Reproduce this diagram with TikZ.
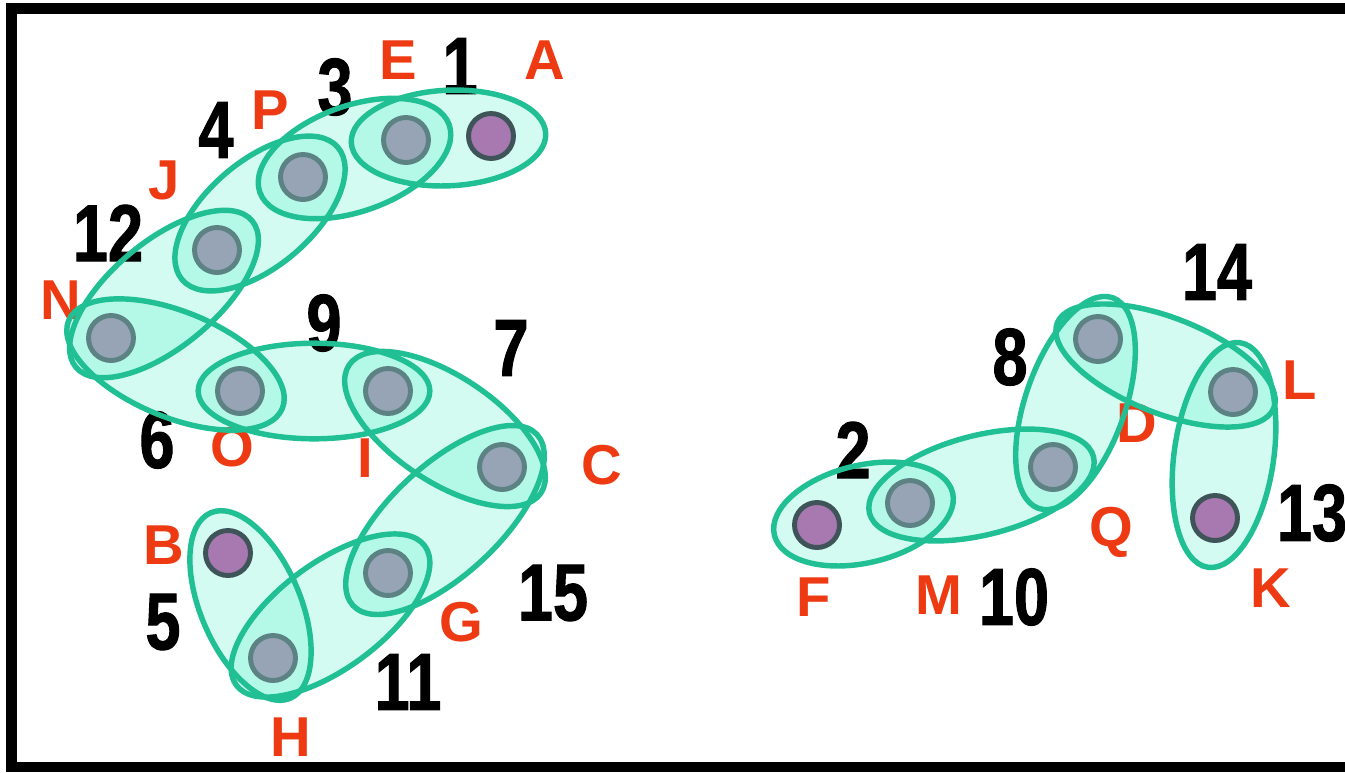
\documentclass[tikz,border=0pt]{standalone}
\usepackage{fontspec}
\usetikzlibrary{calc}
\newfontfamily\letfont{Liberation Sans}
\newfontfamily\numfont[FakeStretch=0.78,FakeBold=1.2]{Liberation Sans}
\definecolor{edgeline}{RGB}{32,192,148}
\definecolor{edgefill}{RGB}{110,245,210}
\definecolor{greynode}{RGB}{150,164,182}
\definecolor{greyrim}{RGB}{92,130,132}
\definecolor{purplenode}{RGB}{168,120,176}
\definecolor{purplerim}{RGB}{62,84,88}
\definecolor{letred}{RGB}{238,58,18}
\pgfdeclarelayer{back}
\pgfdeclarelayer{bg}
\pgfdeclarelayer{fg}
\pgfsetlayers{back,bg,main,fg}
\tikzset{
  vtx/.style={circle, inner sep=0pt, minimum size=0.9cm, line width=2.8pt, draw=greyrim, fill=greynode},
  pvtx/.style={vtx, draw=purplerim, fill=purplenode},
  letlab/.style={inner sep=0pt, text=letred, font=\letfont\bfseries\fontsize{32}{32}\selectfont},
  numlab/.style={inner sep=0pt, text=black, font=\numfont\bfseries\fontsize{46}{46}\selectfont},
  hfill/.style={fill=edgefill, fill opacity=0.3},
  hline/.style={draw=edgeline, line width=3.1pt}
}
% #1 = minor radius (px), #2, #3 = nodes, #4 = extension beyond node centres (px)
\newcommand\hyperedge[4][53]{%
  \begin{pgfonlayer}{bg}
  \path[hfill] let \p1=(#2.center), \p2=(#3.center),
     \n1={atan2(\y2-\y1,\x2-\x1)}, \n2={veclen(\x2-\x1,\y2-\y1)/2+#4*0.5669} in
     ($(\p1)!0.5!(\p2)$) ellipse[x radius=\n2, y radius=#1*0.5669pt, rotate=\n1];
  \end{pgfonlayer}
  \begin{pgfonlayer}{fg}
  \path[hline] let \p1=(#2.center), \p2=(#3.center),
     \n1={atan2(\y2-\y1,\x2-\x1)}, \n2={veclen(\x2-\x1,\y2-\y1)/2+#4*0.5669} in
     ($(\p1)!0.5!(\p2)$) ellipse[x radius=\n2, y radius=#1*0.5669pt, rotate=\n1];
  \end{pgfonlayer}}
\begin{document}
\begin{tikzpicture}[x=0.02cm, y=-0.02cm]
\useasboundingbox (0,0) rectangle (1345,772);
\begin{pgfonlayer}{back}
\fill[white] (0,0) rectangle (1345,772);
\end{pgfonlayer}
\draw[line width=6.2pt, line join=miter] (1360,8.5) -- (11.5,8.5) -- (11.5,767) -- (1360,767);
% vertices
\node[pvtx] (A) at (491,136) {};
\node[vtx]  (E) at (406,140) {};
\node[vtx]  (P) at (303,177) {};
\node[vtx]  (J) at (217,250) {};
\node[vtx]  (N) at (111,338) {};
\node[vtx]  (O) at (240,391) {};
\node[vtx]  (I) at (388,391) {};
\node[vtx]  (C) at (502,467) {};
\node[vtx]  (G) at (388,573) {};
\node[vtx]  (H) at (273,658) {};
\node[pvtx] (B) at (228,553) {};
\node[pvtx] (F) at (817,525) {};
\node[vtx]  (M) at (910,503) {};
\node[vtx]  (Q) at (1053,467) {};
\node[vtx]  (D) at (1098,339) {};
\node[vtx]  (L) at (1233,392) {};
\node[pvtx] (K) at (1215,518) {};
% hyperedges
\hyperedge[48]{E}{A}{55}
\hyperedge{P}{E}{46}
\hyperedge{J}{P}{46}
\hyperedge{N}{J}{46}
\hyperedge{N}{O}{46}
\hyperedge[48]{O}{I}{42}
\hyperedge{I}{C}{47}
\hyperedge[55]{G}{C}{48}
\hyperedge{H}{G}{46}
\hyperedge[50]{B}{H}{44}
\hyperedge[49]{F}{M}{44}
\hyperedge[50]{M}{Q}{42}
\hyperedge[50]{Q}{D}{44}
\hyperedge[48]{D}{L}{44}
\hyperedge[50]{L}{K}{50}
% letter labels
\node[letlab] (tE) at (398,60) {E};
\node[letlab] (tA) at (545,60) {A};
\node[letlab] (tP) at (270,110) {P};
\node[letlab] (tJ) at (164,180) {J};
\node[letlab] (tN) at (61,300) {N};
\node[letlab] (tO) at (232,447) {O};
\node[letlab] (tI) at (365,458) {I};
\node[letlab] (tC) at (602,465) {C};
\node[letlab] (tB) at (164,545) {B};
\node[letlab] (tG) at (461,622) {G};
\node[letlab] (tH) at (291,737) {H};
\node[letlab] (tF) at (814,597) {F};
\node[letlab] (tM) at (939,595) {M};
\node[letlab] (tQ) at (1111,532) {Q};
\node[letlab] (tD) at (1137,423) {D};
\node[letlab] (tL) at (1300,380) {L};
\node[letlab] (tK) at (1271,588) {K};
% number labels
\node[numlab] (n1) at (460,66) {1};
\node[numlab] (n3) at (335,87) {3};
\node[numlab] (n4) at (216,130) {4};
\node[numlab] (n12) at (108,233) {12};
\node[numlab] (n9) at (324,323) {9};
\node[numlab] (n7) at (511,348) {7};
\node[numlab] (n6) at (157,440) {6};
\node[numlab] (n15) at (553,593) {15};
\node[numlab] (n11) at (408,682) {11};
\node[numlab] (n5) at (163,622) {5};
\node[numlab] (n2) at (853,450) {2};
\node[numlab] (n10) at (1014,597) {10};
\node[numlab] (n8) at (1010,357) {8};
\node[numlab] (n14) at (1217,272) {14};
\node[numlab] (n13) at (1312,513) {13};
\end{tikzpicture}
\end{document}
